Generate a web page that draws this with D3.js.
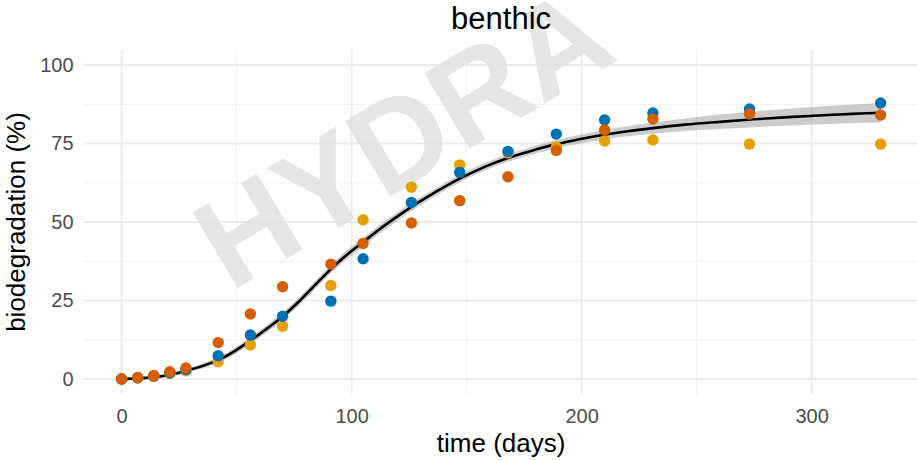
<!DOCTYPE html>
<html>
<head>
<meta charset="utf-8">
<script src="https://cdn.jsdelivr.net/npm/d3@7"></script>
<style>
  html, body { margin: 0; padding: 0; background: #fff; }
  svg { display: block; font-family: "Liberation Sans", Arial, Helvetica, sans-serif; }
</style>
</head>
<body>
<svg id="chart" width="917" height="460"></svg>
<script>
// ---- data ----
const title = "benthic";
const xLabel = "time (days)";
const yLabel = "biodegradation (%)";
const xTicks = [0, 100, 200, 300];
const yTicks = [0, 25, 50, 75, 100];
const xMinor = [50, 150, 250];
const yMinor = [12.5, 37.5, 62.5, 87.5];

const days = [0, 7, 14, 21, 28, 42, 56, 70, 91, 105, 126, 147, 168, 189, 210, 231, 273, 330];
const seriesNames = ["replicate 1", "replicate 2", "replicate 3"];
const seriesColors = ["#E69F00", "#0072B2", "#D55E00"];
const rep1 = [0, 0.3, 0.8, 1.8, 2.6, 5.5, 10.8, 16.8, 29.8, 50.7, 61.1, 68.2, 72.0, 73.9, 75.8, 76.1, 74.8, 74.8];   // yellow
const rep2 = [0, 0.4, 1.0, 2.0, 3.0, 7.4, 14.0, 20.0, 24.8, 38.3, 56.2, 65.8, 72.5, 78.0, 82.5, 84.7, 86.0, 87.9];  // blue
const rep3 = [0, 0.5, 1.1, 2.3, 3.5, 11.6, 20.7, 29.4, 36.6, 43.2, 49.7, 56.8, 64.4, 72.8, 79.3, 82.8, 84.4, 84.1]; // orange

// fitted curve and its confidence band
const fitDays = [0, 7, 14, 21, 28, 35, 42, 49, 56, 63, 70, 77, 84, 91, 98, 105, 112, 119, 126, 133, 140, 147, 154, 161, 168, 175, 182, 189, 196, 203, 210, 220, 231, 245, 260, 275, 290, 305, 320, 330];
const fitValues = [0, 0.2, 0.6, 1.3, 2.6, 4.1, 6.0, 8.8, 12.2, 15.9, 19.9, 24.6, 29.8, 35.0, 39.6, 43.6, 47.6, 51.3, 54.8, 58.0, 61.0, 63.8, 66.3, 68.5, 70.4, 72.0, 73.5, 74.8, 75.9, 76.9, 77.8, 78.9, 79.9, 81.0, 81.9, 82.7, 83.4, 84.0, 84.5, 84.8];
const fitHalfWidth = [0.3, 0.4, 0.5, 0.6, 0.7, 0.8, 0.9, 1.0, 1.1, 1.2, 1.25, 1.3, 1.3, 1.35, 1.4, 1.4, 1.4, 1.35, 1.3, 1.25, 1.2, 1.2, 1.2, 1.2, 1.2, 1.2, 1.25, 1.3, 1.35, 1.4, 1.5, 1.6, 1.8, 2.0, 2.3, 2.5, 2.7, 2.9, 3.0, 3.1];

const watermark = "HYDRA";

// ---- layout ----
const W = 917, H = 460;
const panel = { left: 83.6, right: 918.6, top: 49.3, bottom: 394.7 };

const svg = d3.select("#chart");

const xExt = [0, 330], xPad = (xExt[1] - xExt[0]) * 0.05;
const x = d3.scaleLinear().domain([xExt[0] - xPad, xExt[1] + xPad]).range([panel.left, panel.right]);
const yExt = [0, 100], yPad = (yExt[1] - yExt[0]) * 0.05;
const y = d3.scaleLinear().domain([yExt[0] - yPad, yExt[1] + yPad]).range([panel.bottom, panel.top]);

// grid
const grid = svg.append("g");
grid.selectAll(".ymin").data(yMinor).join("line")
  .attr("x1", panel.left).attr("x2", W).attr("y1", d => y(d)).attr("y2", d => y(d))
  .attr("stroke", "#f0f0f0").attr("stroke-width", 1);
grid.selectAll(".xmin").data(xMinor).join("line")
  .attr("y1", panel.top).attr("y2", panel.bottom).attr("x1", d => x(d)).attr("x2", d => x(d))
  .attr("stroke", "#f0f0f0").attr("stroke-width", 1);
grid.selectAll(".ymaj").data(yTicks).join("line")
  .attr("x1", panel.left).attr("x2", W).attr("y1", d => y(d)).attr("y2", d => y(d))
  .attr("stroke", "#ebebeb").attr("stroke-width", 1.8);
grid.selectAll(".xmaj").data(xTicks).join("line")
  .attr("y1", panel.top).attr("y2", panel.bottom).attr("x1", d => x(d)).attr("x2", d => x(d))
  .attr("stroke", "#ebebeb").attr("stroke-width", 1.8);

// watermark
const fs = 128;
svg.append("g").attr("transform", "translate(402,136) rotate(-31)")
  .append("text").text(watermark)
  .attr("text-anchor", "middle").attr("y", fs * 0.358)
  .attr("font-size", fs).attr("font-weight", "bold")
  .attr("fill", "#e2e2e2").attr("opacity", 0.85);

// ribbon + curve
const fit = fitDays.map((d, i) => ({ t: d, v: fitValues[i], lo: fitValues[i] - fitHalfWidth[i], hi: fitValues[i] + fitHalfWidth[i] }));
svg.append("path").datum(fit)
  .attr("d", d3.area().x(d => x(d.t)).y0(d => y(d.lo)).y1(d => y(d.hi)).curve(d3.curveMonotoneX))
  .attr("fill", "#999999").attr("opacity", 0.5);
svg.append("path").datum(fit)
  .attr("d", d3.line().x(d => x(d.t)).y(d => y(d.v)).curve(d3.curveMonotoneX))
  .attr("fill", "none").attr("stroke", "#000").attr("stroke-width", 2.6);

// points
const allSeries = [rep1, rep2, rep3];
allSeries.forEach((vals, si) => {
  svg.append("g").selectAll("circle").data(days.map((d, i) => ({ t: d, v: vals[i] })))
    .join("circle")
    .attr("cx", d => x(d.t)).attr("cy", d => y(d.v)).attr("r", 5.7)
    .attr("fill", seriesColors[si]);
});

// axes (tick labels only, as in theme_minimal)
const xAxis = d3.axisBottom(x).tickValues(xTicks).tickSize(0).tickPadding(14);
const gx = svg.append("g").attr("transform", `translate(0,${panel.bottom})`).call(xAxis);
gx.select(".domain").remove();
gx.selectAll("text").attr("font-size", 20).attr("fill", "#4d4d4d").attr("font-family", "Liberation Sans, Arial, sans-serif");

const yAxis = d3.axisLeft(y).tickValues(yTicks).tickSize(0).tickPadding(10);
const gy = svg.append("g").attr("transform", `translate(${panel.left},0)`).call(yAxis);
gy.select(".domain").remove();
gy.selectAll("text").attr("font-size", 20).attr("fill", "#4d4d4d").attr("font-family", "Liberation Sans, Arial, sans-serif");

// titles
svg.append("text").text(title).attr("x", (panel.left + panel.right) / 2).attr("y", 29)
  .attr("text-anchor", "middle").attr("font-size", 31).attr("fill", "#000");
svg.append("text").text(xLabel).attr("x", (panel.left + panel.right) / 2).attr("y", 452)
  .attr("text-anchor", "middle").attr("font-size", 26).attr("fill", "#000");
svg.append("text").text(yLabel)
  .attr("transform", `translate(25,${(panel.top + panel.bottom) / 2}) rotate(-90)`)
  .attr("text-anchor", "middle").attr("font-size", 26).attr("fill", "#000");
</script>
</body>
</html>
